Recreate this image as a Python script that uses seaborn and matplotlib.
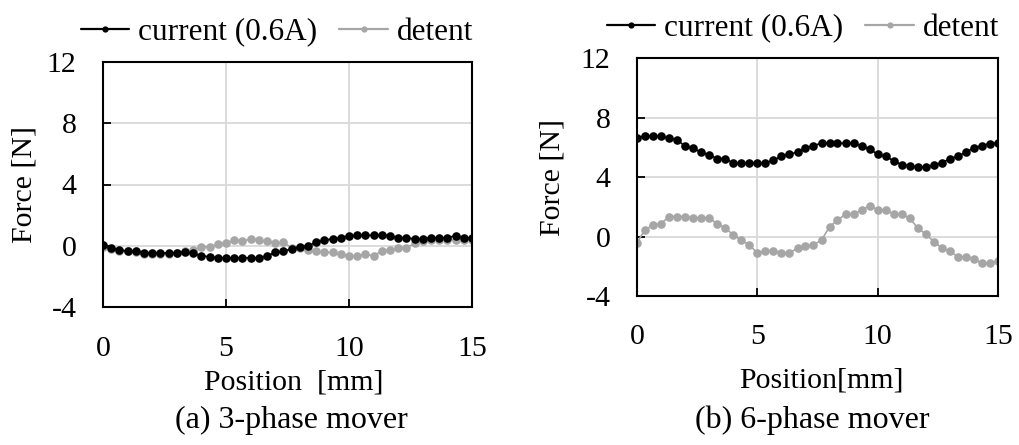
import numpy as np
import pandas as pd
import matplotlib
matplotlib.use("Agg")
import matplotlib.pyplot as plt
import seaborn as sns
from matplotlib.lines import Line2D

# ---------------- data ----------------
position = [0.0, 0.33, 0.67, 1.0, 1.33, 1.67, 2.0, 2.33, 2.67, 3.0,
            3.33, 3.67, 4.0, 4.33, 4.67, 5.0, 5.33, 5.67, 6.0, 6.33,
            6.67, 7.0, 7.33, 7.67, 8.0, 8.33, 8.67, 9.0, 9.33, 9.67,
            10.0, 10.33, 10.67, 11.0, 11.33, 11.67, 12.0, 12.33, 12.67, 13.0,
            13.33, 13.67, 14.0, 14.33, 14.67, 15.0]

# (a) 3-phase mover
a_current = [0.05, -0.13, -0.28, -0.35, -0.35, -0.45, -0.47, -0.47, -0.47, -0.45,
             -0.44, -0.50, -0.66, -0.72, -0.79, -0.79, -0.79, -0.79, -0.79, -0.79,
             -0.66, -0.44, -0.35, -0.20, -0.08, 0.00, 0.22, 0.37, 0.44, 0.52,
             0.66, 0.68, 0.68, 0.68, 0.68, 0.66, 0.52, 0.52, 0.44, 0.44,
             0.52, 0.52, 0.52, 0.66, 0.52, 0.50]
a_detent = [-0.07, -0.22, -0.35, -0.35, -0.44, -0.55, -0.55, -0.55, -0.55, -0.50,
            -0.35, -0.28, -0.07, -0.07, 0.09, 0.15, 0.37, 0.31, 0.44, 0.37,
            0.31, 0.15, 0.22, -0.13, -0.13, -0.28, -0.35, -0.44, -0.44, -0.57,
            -0.66, -0.66, -0.57, -0.66, -0.35, -0.28, -0.13, -0.13, 0.15, 0.31,
            0.37, 0.37, 0.37, 0.37, 0.37, 0.37]

# (b) 6-phase mover
b_current = [6.63, 6.74, 6.74, 6.74, 6.63, 6.50, 6.06, 5.93, 5.65, 5.48,
             5.24, 5.24, 4.93, 4.93, 4.93, 4.93, 4.93, 5.14, 5.38, 5.52,
             5.68, 5.95, 6.11, 6.27, 6.27, 6.27, 6.27, 6.27, 6.11, 5.86,
             5.54, 5.38, 5.09, 4.82, 4.75, 4.66, 4.66, 4.82, 4.95, 5.24,
             5.38, 5.68, 5.95, 6.11, 6.24, 6.27]
b_detent = [-0.42, 0.45, 0.76, 0.87, 1.34, 1.34, 1.34, 1.23, 1.23, 1.23,
            0.87, 0.56, 0.11, -0.24, -0.56, -1.12, -0.96, -0.96, -1.12, -1.12,
            -0.78, -0.67, -0.56, -0.24, 0.65, 1.10, 1.50, 1.50, 1.77, 2.08,
            1.79, 1.79, 1.50, 1.50, 1.23, 0.56, 0.16, -0.34, -0.78, -1.00,
            -1.36, -1.36, -1.48, -1.81, -1.81, -1.63]

series_names = ["current (0.6A)", "detent"]
x_ticks = [0, 5, 10, 15]
y_ticks = [-4, 0, 4, 8, 12]
panel_titles = ["(a) 3-phase mover", "(b) 6-phase mover"]
x_labels = ["Position  [mm]", "Position[mm]"]
y_label = "Force [N]"

# ---------------- style ----------------
sns.set_theme(style="white")
plt.rcParams["font.family"] = ["Liberation Serif", "DejaVu Serif"]
plt.rcParams["text.color"] = "black"

W, H = 1019, 445
fig = plt.figure(figsize=(W / 100, H / 100), dpi=100)

def fx(px):
    return px / W

def fy(py):
    return 1 - py / H

colors = {"current (0.6A)": "#000000", "detent": "#a6a6a6"}
FS_TICK = 21.5
FS_LAB = 21.5
FS_LEG = 22.5
FS_TITLE = 23

panels = [
    dict(box=(103, 62, 472, 307), cur=a_current, det=a_detent, xpad=21,
         leg=(277, 32), ylab_x=25, xlab=(294, 382), title=(291, 420)),
    dict(box=(637, 58, 998, 296), cur=b_current, det=b_detent, xpad=20,
         leg=(803, 28), ylab_x=553, xlab=(821, 380), title=(812, 420)),
]

for k, p in enumerate(panels):
    x0, y0, x1, y1 = p["box"]
    ax = fig.add_axes([fx(x0), fy(y1), fx(x1 - x0), (y1 - y0) / H])
    df = pd.DataFrame({
        "Position": position * 2,
        "Force": list(p["cur"]) + list(p["det"]),
        "series": [series_names[0]] * len(position) + [series_names[1]] * len(position),
    })
    for name in [series_names[1], series_names[0]]:
        sub = df[df["series"] == name]
        sns.lineplot(data=sub, x="Position", y="Force", ax=ax, color=colors[name],
                     marker="o", markersize=6.2, markeredgewidth=0,
                     linewidth=1.2, legend=False, zorder=3 if name != "detent" else 2)
    ax.set_xlim(0, 15)
    ax.set_ylim(-4, 12)
    ax.set_xticks(x_ticks)
    ax.set_yticks(y_ticks)
    ax.set_xticklabels([str(v) for v in x_ticks], fontsize=FS_TICK)
    ax.set_yticklabels([str(v) for v in y_ticks], fontsize=FS_TICK)
    ax.grid(True, color="#d9d9d9", linewidth=1.3, zorder=0)
    ax.set_axisbelow(True)
    for s in ax.spines.values():
        s.set_color("black")
        s.set_linewidth(1.5)
        s.set_visible(True)
    ax.tick_params(axis="both", direction="in", length=6, width=1.3, color="black",
                   labelcolor="black", bottom=True, left=True, top=False, right=False)
    ax.tick_params(axis="x", pad=p["xpad"])
    ax.tick_params(axis="y", pad=19)
    ax.set_xlabel("")
    ax.set_ylabel("")

    fig.text(fx(p["ylab_x"]), fy((y0 + y1) / 2), y_label, rotation=90,
             ha="center", va="center", fontsize=FS_LAB, color="black")
    fig.text(fx(p["xlab"][0]), fy(p["xlab"][1]), x_labels[k],
             ha="center", va="center", fontsize=FS_LAB, color="black")
    fig.text(fx(p["title"][0]), fy(p["title"][1]), panel_titles[k],
             ha="center", va="center", fontsize=FS_TITLE, color="black")

    handles = [Line2D([], [], color=colors[n], marker="o", markersize=4.5,
                      markeredgewidth=0, linewidth=1.6) for n in series_names]
    leg = fig.legend(handles, series_names, loc="center",
                     bbox_to_anchor=(fx(p["leg"][0]), fy(p["leg"][1])),
                     ncol=2, frameon=False, fontsize=FS_LEG, handlelength=1.55,
                     handletextpad=0.3, columnspacing=0.7, borderpad=0)
    for t in leg.get_texts():
        t.set_color("black")

fig.savefig("out.png", dpi=100)
